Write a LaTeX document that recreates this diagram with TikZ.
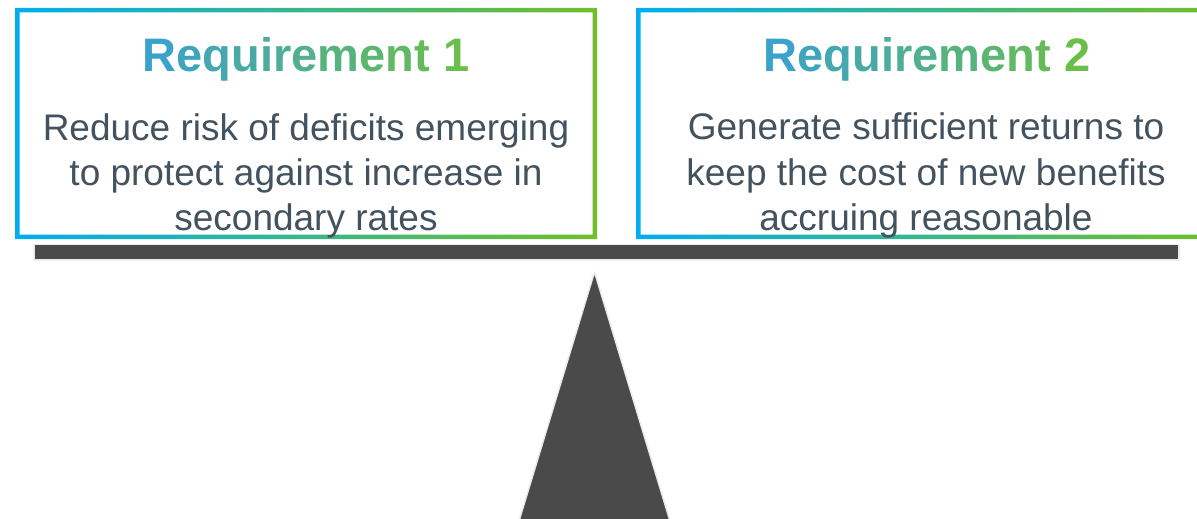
\documentclass[tikz,border=0pt]{standalone}
\usepackage{fontspec}
\setmainfont{Liberation Sans}

\definecolor{frameBlue}{RGB}{0,174,239}
\definecolor{frameGreen}{RGB}{114,190,40}
\definecolor{titleBlue}{RGB}{56,160,210}
\definecolor{titleGreen}{RGB}{108,192,70}
\definecolor{bodyText}{RGB}{66,82,94}
\definecolor{beamGray}{RGB}{74,74,74}

% one letter of a title, p% of the way from blue to green
\newcommand\gradletter[2]{\textcolor{titleGreen!#1!titleBlue}{#2}}
\newcommand\reqtitle[1]{%
  \gradletter{5}{R}\gradletter{14}{e}\gradletter{23}{q}\gradletter{32}{u}%
  \gradletter{38}{i}\gradletter{43}{r}\gradletter{50}{e}\gradletter{60}{m}%
  \gradletter{70}{e}\gradletter{79}{n}\gradletter{86}{t} \gradletter{96}{#1}}

\tikzset{
  titletext/.style={anchor=base, inner sep=0pt,
    font=\fontsize{47}{56}\selectfont\bfseries},
  bodyline/.style={anchor=base, inner sep=0pt, text=bodyText,
    font=\fontsize{37}{45}\selectfont},
  frameshade/.style={left color=frameBlue, right color=frameGreen, even odd rule},
  beampart/.style={fill=beamGray, draw=black!8, line width=1.5pt, line join=round}
}

\begin{document}
\begin{tikzpicture}[x=1pt,y=-1pt]
  \useasboundingbox (0,0) rectangle (1197,519);
  \clip (0,0) rectangle (1197,519);

  % gradient frames of the two requirement boxes
  \shade[frameshade] (15,8) rectangle (597,239) (19.5,12.5) rectangle (592.5,234.5);
  \shade[frameshade] (636,8) rectangle (1218,239) (640.5,12.5) rectangle (1213.5,234.5);

  % requirement 1
  \node[titletext] (t1) at (306,72) {\reqtitle{1}};
  \node[bodyline] (a1) at (306,140) {Reduce risk of deficits emerging};
  \node[bodyline] (a2) at (306,185.5) {to protect against increase in};
  \node[bodyline] (a3) at (306,230.5) {secondary rates};

  % requirement 2
  \node[titletext] (t2) at (927,72) {\reqtitle{2}};
  \node[bodyline] (b1) at (926,139.5) {Generate sufficient returns to};
  \node[bodyline] (b2) at (926,185) {keep the cost of new benefits};
  \node[bodyline] (b3) at (926,230.5) {accruing reasonable};

  % balance: beam and pivot
  \draw[beampart] (34,244.5) rectangle (1179,260);
  \draw[beampart] (594.5,272) -- (670,521) -- (519,521) -- cycle;
\end{tikzpicture}
\end{document}
